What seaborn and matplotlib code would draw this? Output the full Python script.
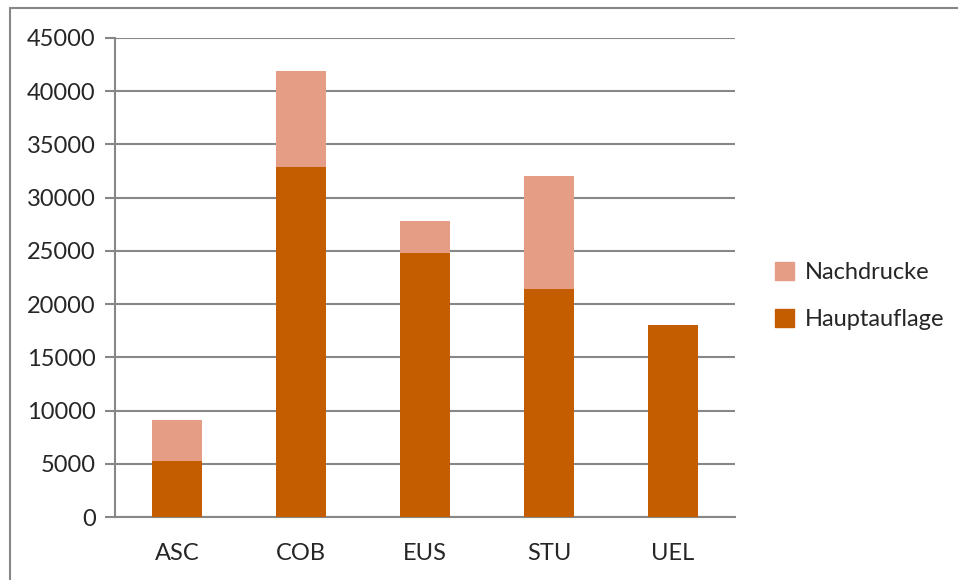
import numpy as np
import pandas as pd
import matplotlib
matplotlib.use("Agg")
import matplotlib.pyplot as plt
import seaborn as sns
from matplotlib.lines import Line2D
from matplotlib.patches import Patch

# values
kategorien = ["ASC", "COB", "EUS", "STU", "UEL"]
hauptauflage = [5300, 32900, 24800, 21400, 18000]
nachdrucke = [3800, 9000, 3000, 10600, 0]
y_ticks = [0, 5000, 10000, 15000, 20000, 25000, 30000, 35000, 40000, 45000]

df = pd.DataFrame({"kategorie": kategorien,
                   "haupt": hauptauflage,
                   "nach": nachdrucke})
df["gesamt"] = df["haupt"] + df["nach"]

COL_HAUPT = "#C45C00"
COL_NACH = "#E59E85"
GRID = "#878787"
FS = 17

sns.set_theme(style="white")
plt.rcParams['font.family'] = ['Lato', 'DejaVu Sans']

fig = plt.figure(figsize=(9.58, 5.8), dpi=100)
ax = fig.add_axes([115 / 958, 1 - 517 / 580, 620 / 958, 479 / 580])

# stacked bars: total first (Nachdrucke colour), then Hauptauflage on top
sns.barplot(data=df, x="kategorie", y="gesamt", color=COL_NACH,
            width=0.4, saturation=1, linewidth=0, ax=ax, zorder=3)
sns.barplot(data=df, x="kategorie", y="haupt", color=COL_HAUPT,
            width=0.4, saturation=1, linewidth=0, ax=ax, zorder=4)

ax.set_xlim(-0.5, 4.5)
ax.set_ylim(0, 45000)
ax.set_yticks(y_ticks)
ax.set_yticklabels([str(v) for v in y_ticks], fontsize=FS)
ax.set_xlabel("")
ax.set_ylabel("")

ax.grid(axis="y", color=GRID, linewidth=1.5, zorder=0)
ax.set_axisbelow(True)

for s in ["top", "right"]:
    ax.spines[s].set_visible(False)
for s in ["left", "bottom"]:
    ax.spines[s].set_color(GRID)
    ax.spines[s].set_linewidth(1.5)

# category boundary ticks on x
ax.set_xticks(np.arange(-0.5, 5.0, 1.0), minor=True)
ax.tick_params(axis="x", which="minor", length=8, width=1.5, color=GRID, direction="out")
ax.tick_params(axis="x", which="major", length=0, pad=19, labelsize=FS)
ax.tick_params(axis="y", which="major", length=7, width=1.5, color=GRID,
               direction="out", pad=7, left=True)

handles = [Patch(color=COL_NACH, label="Nachdrucke"),
           Patch(color=COL_HAUPT, label="Hauptauflage")]
fig.legend(handles=handles, loc="center left",
           bbox_to_anchor=(775 / 958, 1 - 296 / 580), frameon=False,
           fontsize=FS, handlelength=0.8, handleheight=0.8,
           handletextpad=0.45, labelspacing=1.1,
           borderpad=0, borderaxespad=0)

# outer chart border (left and top only visible)
fig.add_artist(Line2D([10 / 958, 10 / 958], [0, 1 - 8 / 580],
                      transform=fig.transFigure, color=GRID, linewidth=1.5))
fig.add_artist(Line2D([10 / 958, 1], [1 - 8 / 580, 1 - 8 / 580],
                      transform=fig.transFigure, color=GRID, linewidth=1.5))

fig.savefig("out.png", dpi=100)
plt.close(fig)
